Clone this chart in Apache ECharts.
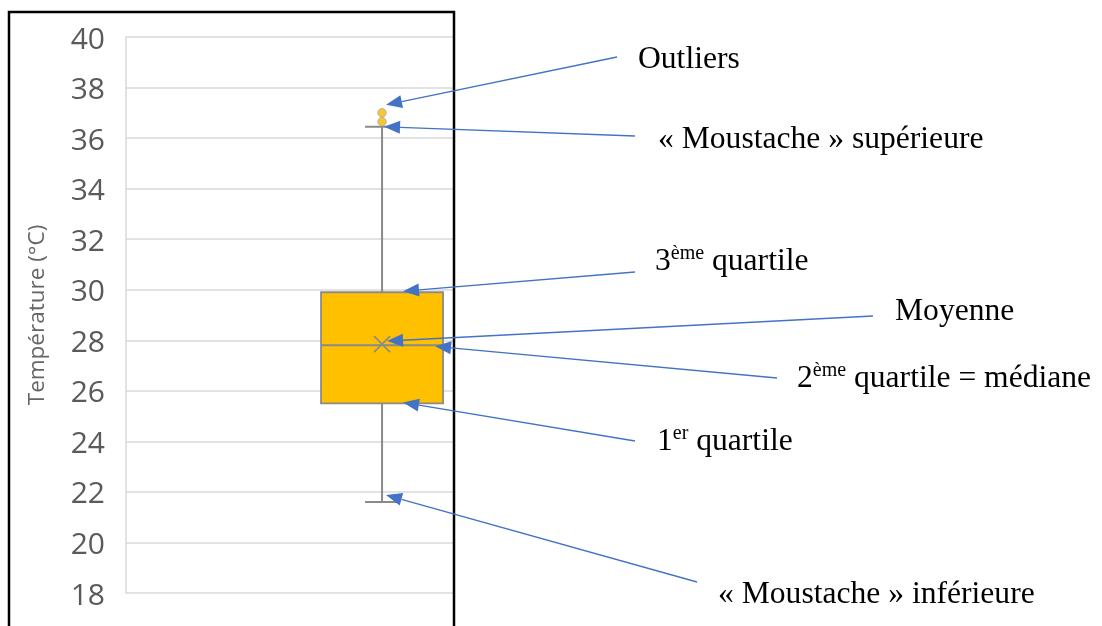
<!DOCTYPE html>
<html>
<head>
<meta charset="utf-8">
<script src="https://cdn.jsdelivr.net/npm/echarts@6/dist/echarts.min.js"></script>
<style>
  html, body { margin: 0; padding: 0; background: #ffffff; }
  #chart { width: 1102px; height: 626px; }
</style>
</head>
<body>
<div id="chart"></div>
<script>
// Temperature distribution (°C): five-number summary, mean and outliers
const yMin = 18;
const yMax = 40;
const yStep = 2;
const whiskerLow = [21.6];
const quartile1 = [25.5];
const medianValue = [27.8];
const quartile3 = [29.9];
const whiskerHigh = [36.45];
const meanValue = [27.85];
const outliers = [36.65, 37.0];

// Annotation texts (rich text for superscripts) and the statistic each one points at
const annotationTexts = [
  'Outliers',
  '« Moustache » supérieure',
  '{n|3}{s|ème}{n| quartile}',
  'Moyenne',
  '{n|2}{s|ème}{n| quartile = médiane}',
  '{n|1}{s|er}{n| quartile}',
  '« Moustache » inférieure'
];
const annotationTargets = [
  outliers[1], whiskerHigh[0], quartile3[0], meanValue[0],
  medianValue[0], quartile1[0], whiskerLow[0]
];

// ---- layout (pixels) ----
const BOX_POS = 0.783;          // horizontal place of the box on the hidden 0..1 axis
const BOX_HALF = 61;
const CAP_HALF = 17;
const CROSS_HALF = 8;
const TEXT_LEFT = [638, 658, 655, 895, 797, 657, 718];
const TEXT_BASE = [68, 148, 270, 320, 387, 450, 603];
const ARROW_TAIL = [[617, 57], [635, 136], [635, 272], [873, 316], [777, 378], [635, 441], [697, 582]];
const ARROW_TIP_SHIFT = [[4, -8], [2, 0], [21, -1], [5, -3], [53, 1], [21, -1], [4, -7]];

const FONT_SERIF = '"Liberation Serif", "Times New Roman", serif';
const TEXT_SIZE = 31.6;
const LINE_H = 36;

const chart = echarts.init(document.getElementById('chart'), null, { renderer: 'canvas' });

const boxData = [[BOX_POS, whiskerLow[0], quartile1[0], medianValue[0], quartile3[0], whiskerHigh[0], meanValue[0]]];
const outlierData = outliers.map(v => [BOX_POS, v]);
const arrowData = annotationTargets.map(v => [BOX_POS, v]);

function renderBox(params, api) {
  const x = api.value(0);
  const lo = api.coord([x, api.value(1)]);
  const q1 = api.coord([x, api.value(2)]);
  const md = api.coord([x, api.value(3)]);
  const q3 = api.coord([x, api.value(4)]);
  const hi = api.coord([x, api.value(5)]);
  const mn = api.coord([x, api.value(6)]);
  const cx = lo[0];
  const grey = '#8a8a8a';
  return {
    type: 'group',
    children: [
      { type: 'line', shape: { x1: cx, y1: hi[1], x2: cx, y2: q3[1] }, style: { stroke: grey, lineWidth: 2 } },
      { type: 'line', shape: { x1: cx, y1: q1[1], x2: cx, y2: lo[1] }, style: { stroke: grey, lineWidth: 2 } },
      { type: 'line', shape: { x1: cx - CAP_HALF, y1: hi[1], x2: cx + CAP_HALF, y2: hi[1] }, style: { stroke: grey, lineWidth: 2 } },
      { type: 'line', shape: { x1: cx - CAP_HALF, y1: lo[1], x2: cx + CAP_HALF, y2: lo[1] }, style: { stroke: grey, lineWidth: 2 } },
      { type: 'rect', shape: { x: cx - BOX_HALF, y: q3[1], width: BOX_HALF * 2, height: q1[1] - q3[1] },
        style: { fill: '#FFC000', stroke: '#8a8a8a', lineWidth: 1.8 } },
      { type: 'line', shape: { x1: cx - BOX_HALF, y1: md[1], x2: cx + BOX_HALF, y2: md[1] }, style: { stroke: grey, lineWidth: 2 } },
      { type: 'line', shape: { x1: mn[0] - CROSS_HALF, y1: mn[1] - CROSS_HALF, x2: mn[0] + CROSS_HALF, y2: mn[1] + CROSS_HALF }, style: { stroke: grey, lineWidth: 1.6 } },
      { type: 'line', shape: { x1: mn[0] - CROSS_HALF, y1: mn[1] + CROSS_HALF, x2: mn[0] + CROSS_HALF, y2: mn[1] - CROSS_HALF }, style: { stroke: grey, lineWidth: 1.6 } }
    ]
  };
}

function renderArrow(params, api) {
  const i = params.dataIndex;
  const p = api.coord([api.value(0), api.value(1)]);
  const tip = [p[0] + ARROW_TIP_SHIFT[i][0], p[1] + ARROW_TIP_SHIFT[i][1]];
  const tail = ARROW_TAIL[i];
  const dx = tail[0] - tip[0], dy = tail[1] - tip[1];
  const len = Math.sqrt(dx * dx + dy * dy);
  const ux = dx / len, uy = dy / len;
  const headLen = 16, headHalf = 6.5;
  const bx = tip[0] + ux * headLen, by = tip[1] + uy * headLen;
  const color = '#4472C4';
  return {
    type: 'group',
    children: [
      { type: 'line', shape: { x1: tail[0], y1: tail[1], x2: bx, y2: by }, style: { stroke: color, lineWidth: 1.3 } },
      { type: 'polygon', shape: { points: [tip, [bx - uy * headHalf, by + ux * headHalf], [bx + uy * headHalf, by - ux * headHalf]] },
        style: { fill: color } }
    ]
  };
}

const labelGraphics = annotationTexts.map((t, i) => ({
  type: 'text',
  left: TEXT_LEFT[i],
  top: TEXT_BASE[i] - 26,
  z: 10,
  style: {
    text: t,
    fill: '#000000',
    font: TEXT_SIZE + 'px ' + FONT_SERIF,
    lineHeight: LINE_H,
    rich: {
      n: { fontSize: TEXT_SIZE, fontFamily: FONT_SERIF, lineHeight: LINE_H, fill: '#000000' },
      s: { fontSize: 20, fontFamily: FONT_SERIF, lineHeight: 30, verticalAlign: 'top', fill: '#000000' }
    }
  }
}));

chart.setOption({
  animation: false,
  backgroundColor: '#ffffff',
  grid: { left: 126, top: 37, width: 327, height: 556, containLabel: false },
  xAxis: { type: 'value', min: 0, max: 1, show: false },
  yAxis: {
    type: 'value',
    min: yMin, max: yMax, interval: yStep,
    name: 'Température (°C)',
    nameLocation: 'middle',
    nameRotate: 90,
    nameGap: 77,
    nameTextStyle: { fontFamily: 'Open Sans', fontSize: 22.5, color: '#666666' },
    axisLine: { show: true, lineStyle: { color: '#d9d9d9', width: 1.5 } },
    axisTick: { show: false },
    axisLabel: {
      margin: 21,
      formatter: v => '{t|' + v + '}',
      rich: { t: { fontFamily: 'Open Sans', fontSize: 30, color: '#5a5a5a', padding: [6, 0, 0, 0] } }
    },
    splitLine: { show: true, lineStyle: { color: '#d9d9d9', width: 1.5 } }
  },
  series: [
    { type: 'custom', name: 'box', renderItem: renderBox, data: boxData, clip: false, z: 2 },
    { type: 'scatter', name: 'outliers', data: outlierData, symbol: 'circle', symbolSize: 8.5,
      itemStyle: { color: '#F5B800', borderColor: '#a8a8a8', borderWidth: 1 }, z: 3 },
    { type: 'custom', name: 'arrows', renderItem: renderArrow, data: arrowData, clip: false, z: 5 }
  ],
  graphic: [
    { type: 'rect', shape: { x: 9, y: 12, width: 445, height: 700 }, style: { fill: 'none', stroke: '#000000', lineWidth: 2.5 }, z: 4 }
  ].concat(labelGraphics)
});
</script>
</body>
</html>
